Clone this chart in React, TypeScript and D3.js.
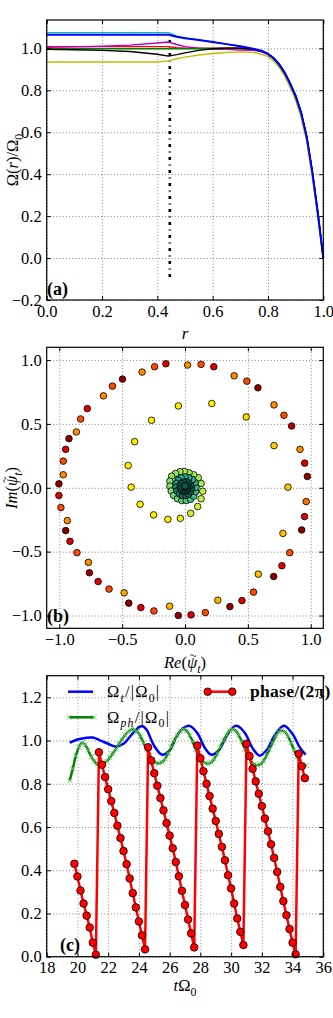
import React, { useEffect, useRef } from "react";
import {
  select,
  scaleLinear,
  line,
  curveCatmullRom,
  axisBottom,
  axisLeft,
  axisTop,
  axisRight,
  format,
} from "d3";

const FONT = "'Liberation Serif', 'Times New Roman', serif";
const TICK_FS = 16.5;

// ---------- panel (a): Omega(r)/Omega_0 profiles
const rValues = [0, 0.1, 0.2, 0.3, 0.4, 0.44, 0.47, 0.5, 0.55, 0.6, 0.65, 0.7, 0.75, 0.78, 0.8, 0.82, 0.84, 0.86, 0.88, 0.9, 0.92, 0.94, 0.96, 0.98, 1.0];
const omegaCyan = [1.075, 1.075, 1.075, 1.075, 1.075, 1.075, 1.058, 1.05, 1.04, 1.03, 1.02, 1.01, 0.997, 0.987, 0.974, 0.954, 0.924, 0.884, 0.832, 0.772, 0.692, 0.577, 0.412, 0.217, 0.0];
const omegaRed = [1.008, 1.008, 1.008, 1.008, 1.008, 1.008, 1.003, 1.0, 1.0, 1.0, 1.0, 1.0, 0.995, 0.985, 0.972, 0.952, 0.922, 0.882, 0.83, 0.77, 0.69, 0.575, 0.41, 0.215, 0.0];
const omegaMagenta = [1.005, 1.007, 1.01, 1.015, 1.025, 1.03, 1.018, 1.008, 1.0, 0.997, 0.995, 0.992, 0.99, 0.982, 0.97, 0.95, 0.92, 0.88, 0.828, 0.768, 0.688, 0.573, 0.408, 0.213, 0.0];
const omegaGreen = [0.998, 0.998, 0.998, 0.998, 0.998, 0.998, 0.998, 0.998, 0.998, 0.999, 1.0, 1.0, 0.995, 0.985, 0.972, 0.952, 0.922, 0.882, 0.83, 0.77, 0.69, 0.575, 0.41, 0.215, 0.0];
const omegaBlack = [0.995, 0.993, 0.99, 0.985, 0.972, 0.963, 0.97, 0.978, 0.99, 0.998, 1.0, 1.0, 0.995, 0.985, 0.975, 0.956, 0.927, 0.888, 0.836, 0.777, 0.697, 0.582, 0.417, 0.22, 0.0];
const omegaYellow = [0.935, 0.935, 0.935, 0.935, 0.935, 0.94, 0.95, 0.958, 0.968, 0.975, 0.98, 0.983, 0.98, 0.97, 0.96, 0.94, 0.91, 0.868, 0.815, 0.752, 0.67, 0.555, 0.39, 0.2, 0.0];
const omegaBlue = [1.065, 1.065, 1.065, 1.065, 1.065, 1.065, 1.055, 1.048, 1.04, 1.03, 1.02, 1.01, 0.997, 0.987, 0.973, 0.953, 0.923, 0.883, 0.831, 0.771, 0.691, 0.576, 0.411, 0.216, 0.0];
const profiles = [
  { values: omegaCyan, color: "#00bfbf" },
  { values: omegaRed, color: "#ff0000" },
  { values: omegaMagenta, color: "#bf00bf" },
  { values: omegaGreen, color: "#008000" },
  { values: omegaBlack, color: "#000000" },
  { values: omegaYellow, color: "#bfbf00" },
  { values: omegaBlue, color: "#0000ff" },
];
const markerR = 0.445;
const markerSpan = [-0.09, 1.05];

// ---------- panel (b): psi_t in the complex plane [re, im, colour level]
const outerRing: [number, number, number][] = [
  [0.021, 0.961, 3], [-0.152, 0.971, 1], [-0.242, 0.948, 2], [-0.341, 0.906, 3], [-0.497, 0.851, 0],
  [-0.577, 0.796, 2], [-0.649, 0.72, 3], [-0.777, 0.62, 1], [-0.83, 0.539, 2], [-0.864, 0.437, 3],
  [-0.923, 0.385, 0], [-0.949, 0.301, 1], [-0.968, 0.209, 2], [-0.968, 0.102, 3], [-1.003, 0.031, 0],
  [-1.003, -0.06, 1], [-0.987, -0.155, 2], [-0.936, -0.257, 3], [-0.949, -0.335, 0], [-0.915, -0.419, 1],
  [-0.859, -0.508, 2], [-0.768, -0.584, 3], [-0.76, -0.665, 0], [-0.691, -0.734, 1], [-0.604, -0.793, 2],
  [-0.484, -0.822, 3.5], [-0.447, -0.903, 0], [-0.351, -0.938, 1], [-0.247, -0.964, 2], [-0.122, -0.927, 3.8],
  [-0.053, -1.0, 0], [0.048, -0.995, 1], [0.162, -0.977, 2], [0.261, -0.88, 3.8], [0.357, -0.93, 0],
  [0.453, -0.883, 1], [0.545, -0.817, 2], [0.583, -0.676, 4], [0.705, -0.694, 0], [0.771, -0.61, 1],
  [0.833, -0.508, 2], [0.779, -0.357, 4], [0.928, -0.33, 0], [0.951, -0.225, 1], [0.964, -0.108, 2.5],
  [0.973, 0.089, 0], [0.952, 0.193, 1], [0.915, 0.301, 3], [0.848, 0.484, 0.5], [0.787, 0.568, 2],
  [0.708, 0.649, 3], [0.58, 0.783, 0], [0.492, 0.835, 2], [0.391, 0.877, 3], [0.229, 0.948, 1],
  [0.128, 0.966, 2],
];
const innerSpiral: [number, number, number][] = [
  [0.819, 0.005, 4.3], [0.708, 0.33, 4.3], [0.487, 0.555, 4.6], [0.213, 0.66, 5], [-0.053, 0.641, 5],
  [-0.266, 0.529, 5], [-0.401, 0.361, 5], [-0.452, 0.175, 5], [-0.428, 0.005, 5], [-0.357, -0.129, 5],
  [-0.25, -0.212, 5], [-0.136, -0.247, 5], [-0.037, -0.239, 5.5], [0.045, -0.2, 6], [0.101, -0.147, 6],
  [0.128, -0.086, 6.5], [0.141, -0.027, 6.5], [0.128, 0.034, 7], [0.106, 0.079, 7], [0.069, 0.102, 7],
  [0.032, 0.118, 7], [-0.006, 0.128, 7], [-0.04, 0.126, 7.2], [-0.075, 0.112, 7.2], [-0.106, 0.091, 7.4],
  [-0.12, 0.052, 7.5], [-0.12, 0.013, 7.6], [-0.11, -0.025, 7.8], [-0.09, -0.06, 8], [-0.06, -0.085, 8],
  [-0.025, -0.1, 8.2], [0.01, -0.1, 8.4], [0.045, -0.09, 8.5], [0.07, -0.065, 8.6], [0.085, -0.03, 8.7],
  [0.088, 0.005, 8.8], [0.08, 0.04, 9], [0.06, 0.065, 9], [0.03, 0.08, 9], [0.0, 0.085, 9],
  [-0.03, 0.078, 9], [-0.055, 0.06, 9.2], [-0.07, 0.035, 9.3], [-0.072, 0.005, 9.4], [-0.063, -0.025, 9.5],
  [-0.045, -0.048, 9.6], [-0.02, -0.06, 9.7], [0.005, -0.06, 9.8], [0.028, -0.05, 9.8], [0.045, -0.03, 9.9],
  [0.05, -0.005, 10], [0.045, 0.02, 10], [0.03, 0.038, 10], [0.01, 0.047, 10], [-0.012, 0.045, 10],
  [-0.03, 0.033, 10], [-0.038, 0.015, 10], [-0.036, -0.005, 10], [-0.025, -0.02, 10], [-0.01, -0.027, 10],
  [0.005, -0.025, 10], [0.016, -0.015, 10], [0.02, 0.0, 10], [0.015, 0.012, 10], [0.0, 0.015, 10],
];
const levelColors = ["#8e0000", "#dd0000", "#ff4a00", "#ff8c00", "#ffbf00", "#ffee00", "#d8f030", "#a6ea55", "#6fd27a", "#2fa88e", "#0e5a4c"];

// ---------- panel (c): time series
const phaseT = [
  19.8, 20.0, 20.2, 20.4, 20.6, 20.8, 21.0, 21.2,
  21.4, 21.6, 21.8, 22.0, 22.2, 22.4, 22.6, 22.8, 23.0, 23.2, 23.4, 23.6, 23.8, 24.0, 24.2, 24.4,
  24.6, 24.8, 25.0, 25.2, 25.4, 25.6, 25.8, 26.0, 26.2, 26.4, 26.6, 26.8, 27.0, 27.2, 27.4, 27.6,
  27.8, 28.0, 28.2, 28.4, 28.6, 28.8, 29.0, 29.2, 29.4, 29.6, 29.8, 30.0, 30.2, 30.4, 30.6, 30.8,
  31.0, 31.2, 31.4, 31.6, 31.8, 32.0, 32.2, 32.4, 32.6, 32.8, 33.0, 33.2, 33.4, 33.6, 33.8, 34.0, 34.2,
  34.4, 34.6, 34.8,
];
const phaseV = [
  0.43, 0.371, 0.306, 0.246, 0.19, 0.135, 0.065, 0.009,
  0.946, 0.888, 0.831, 0.775, 0.72, 0.665, 0.606, 0.549, 0.489, 0.428, 0.362, 0.294, 0.228, 0.163, 0.099, 0.034,
  0.969, 0.908, 0.849, 0.791, 0.734, 0.677, 0.618, 0.56, 0.502, 0.438, 0.372, 0.305, 0.239, 0.172, 0.108, 0.043,
  0.977, 0.918, 0.858, 0.8, 0.743, 0.685, 0.628, 0.568, 0.508, 0.446, 0.377, 0.316, 0.246, 0.177, 0.115, 0.054,
  0.985, 0.928, 0.869, 0.811, 0.754, 0.697, 0.639, 0.58, 0.52, 0.457, 0.392, 0.323, 0.257, 0.192, 0.128, 0.065, 0.011,
  0.939, 0.881, 0.826,
];
const omegaT: [number, number][] = [
  [19.5, 0.99], [20.0, 1.005], [20.5, 1.012], [21.0, 1.014], [21.5, 1.0], [22.0, 0.985], [22.5, 0.972],
  [23.0, 0.985], [23.5, 1.025], [24.0, 1.062], [24.25, 1.066], [24.5, 1.05], [25.0, 0.975], [25.5, 0.935],
  [26.0, 0.955], [26.5, 1.025], [27.0, 1.062], [27.3, 1.068], [27.8, 1.035], [28.3, 0.965], [28.7, 0.935],
  [29.2, 0.955], [29.7, 1.02], [30.2, 1.065], [30.4, 1.068], [30.9, 1.035], [31.4, 0.965], [31.85, 0.93],
  [32.3, 0.955], [32.8, 1.02], [33.3, 1.064], [33.5, 1.068], [34.0, 1.03], [34.5, 0.965], [34.85, 0.935],
];
const omegaPh: [number, number][] = [
  [19.5, 0.815], [19.7, 0.87], [19.9, 0.93], [20.1, 0.97], [20.3, 0.99], [20.5, 0.98], [20.7, 0.955],
  [20.9, 0.925], [21.1, 0.905], [21.3, 0.89], [21.5, 0.888], [21.7, 0.895], [21.9, 0.905], [22.1, 0.92],
  [22.3, 0.94], [22.5, 0.96], [22.7, 0.985], [22.9, 1.005], [23.1, 1.025], [23.3, 1.04], [23.5, 1.05],
  [23.7, 1.05], [23.9, 1.04], [24.1, 1.02], [24.3, 0.99], [24.5, 0.96], [24.7, 0.93], [24.9, 0.91],
  [25.1, 0.897], [25.3, 0.895], [25.5, 0.9], [25.7, 0.915], [25.9, 0.94], [26.1, 0.97], [26.3, 1.0],
  [26.5, 1.025], [26.7, 1.045], [26.9, 1.052], [27.1, 1.045], [27.3, 1.025], [27.5, 0.995], [27.7, 0.96],
  [27.9, 0.93], [28.1, 0.91], [28.3, 0.897], [28.5, 0.893], [28.7, 0.9], [28.9, 0.915], [29.1, 0.94],
  [29.3, 0.97], [29.5, 1.0], [29.7, 1.025], [29.9, 1.045], [30.1, 1.052], [30.3, 1.045], [30.5, 1.025],
  [30.7, 0.995], [30.9, 0.96], [31.1, 0.93], [31.3, 0.905], [31.5, 0.89], [31.7, 0.886], [31.9, 0.89],
  [32.1, 0.905], [32.3, 0.93], [32.5, 0.96], [32.7, 0.99], [32.9, 1.02], [33.1, 1.04], [33.3, 1.047],
  [33.5, 1.04], [33.7, 1.02], [33.9, 0.99], [34.1, 0.955], [34.3, 0.925], [34.5, 0.9], [34.7, 0.888],
  [34.9, 0.885],
];

// ticks
const aTicksX = [0, 0.2, 0.4, 0.6, 0.8, 1.0];
const aTicksY = [-0.2, 0, 0.2, 0.4, 0.6, 0.8, 1.0];
const bTicks = [-1, -0.5, 0, 0.5, 1];
const cTicksX = [18, 20, 22, 24, 26, 28, 30, 32, 34, 36];
const cTicksY = [0, 0.2, 0.4, 0.6, 0.8, 1.0, 1.2];

const LEFT = 46.7, RIGHT = 323.3;

function drawFrame(g, x, y, xTicks, yTicks) {
  const [x0, x1] = x.range();
  const [y0, y1] = y.range();
  // dotted grid
  const gx = g.append("g").attr("transform", `translate(0,${y0})`)
    .call(axisBottom(x).tickValues(xTicks).tickSize(-(y0 - y1)).tickFormat(() => ""));
  const gy = g.append("g").attr("transform", `translate(${x0},0)`)
    .call(axisLeft(y).tickValues(yTicks).tickSize(-(x1 - x0)).tickFormat(() => ""));
  [gx, gy].forEach((a) => {
    a.select(".domain").remove();
    a.selectAll("line").attr("stroke", "#333").attr("stroke-width", 0.6).attr("stroke-dasharray", "1,2.2");
  });
}

function drawAxes(g, x, y, xTicks, yTicks, fx, fy) {
  const [x0, x1] = x.range();
  const [y0, y1] = y.range();
  const axes = [
    g.append("g").attr("transform", `translate(0,${y0})`)
      .call(axisBottom(x).tickValues(xTicks).tickSize(-4).tickPadding(5).tickFormat(fx)),
    g.append("g").attr("transform", `translate(0,${y1})`)
      .call(axisTop(x).tickValues(xTicks).tickSize(-4).tickFormat(() => "")),
    g.append("g").attr("transform", `translate(${x0},0)`)
      .call(axisLeft(y).tickValues(yTicks).tickSize(-4).tickPadding(5).tickFormat(fy)),
    g.append("g").attr("transform", `translate(${x1},0)`)
      .call(axisRight(y).tickValues(yTicks).tickSize(-4).tickFormat(() => "")),
  ];
  axes.forEach((a) => {
    a.select(".domain").remove();
    a.selectAll("line").attr("stroke", "#000").attr("stroke-width", 1);
    a.selectAll("text").attr("font-family", FONT).attr("font-size", TICK_FS).attr("fill", "#000");
  });
  g.append("rect")
    .attr("x", x0).attr("y", y1).attr("width", x1 - x0).attr("height", y0 - y1)
    .attr("fill", "none").attr("stroke", "#000").attr("stroke-width", 1.2);
}

// parts: t text, i italic, sub subscript, tilde = draw a tilde over this glyph
function mathText(g, x, y, parts, fs, rotate = false, anchor = "middle", spacing = 0) {
  const wrap = g.append("g")
    .attr("transform", rotate ? `translate(${x},${y}) rotate(-90)` : `translate(${x},${y})`);
  const t = wrap.append("text")
    .attr("font-family", FONT).attr("font-size", fs).attr("fill", "#000")
    .attr("text-anchor", anchor)
    .attr("letter-spacing", spacing);
  let shifted = 0;
  let idx = 0;
  const tildeAt = [];
  parts.forEach((p) => {
    const s = t.append("tspan").text(p.t);
    if (p.i) s.attr("font-style", "italic");
    const target = p.sub ? fs * 0.3 : 0;
    if (target !== shifted) { s.attr("dy", target - shifted); shifted = target; }
    if (p.sub) s.attr("font-size", fs * 0.72);
    if (p.tilde) tildeAt.push(idx);
    idx += p.t.length;
  });
  tildeAt.forEach((ci) => {
    const box = t.node().getExtentOfChar(ci);
    const cx = box.x + box.width * 0.62;
    const cy = -fs * 0.8;
    const w = fs * 0.17;
    wrap.append("path")
      .attr("d", `M${cx - w},${cy + 0.8}q${w / 2},${-w * 0.7},${w},0t${w},0`)
      .attr("fill", "none").attr("stroke", "#000").attr("stroke-width", 0.9);
  });
  return t;
}

function panelLabel(g, x, y, txt) {
  g.append("text").attr("x", x).attr("y", y)
    .attr("font-family", FONT).attr("font-size", 18).attr("font-weight", "bold")
    .text(txt);
}

const psiParts = (head) => [
  { t: head, i: true }, { t: "(" }, { t: "ψ", i: true, tilde: true },
  { t: "t", i: true, sub: true }, { t: ")" },
];

function App() {
  const svgRef = useRef(null);

  useEffect(() => {
    const svg = select(svgRef.current);
    svg.selectAll("*").remove();
    const f1 = format(".1f");
    const fInt = format("d");

    // ===== panel (a)
    const ga = svg.append("g");
    const xa = scaleLinear().domain([0, 1]).range([LEFT, RIGHT]);
    const ya = scaleLinear().domain([-0.2, 1.135]).range([300, 20]);
    drawFrame(ga, xa, ya, aTicksX, aTicksY);
    ga.append("line")
      .attr("x1", xa(markerR)).attr("x2", xa(markerR))
      .attr("y1", ya(markerSpan[0])).attr("y2", ya(markerSpan[1]))
      .attr("stroke", "#000").attr("stroke-width", 2.6).attr("stroke-dasharray", "3,4.5,1,4.5");
    const lineA = line().x((d) => xa(d[0])).y((d) => ya(d[1]));
    profiles.forEach((p) => {
      ga.append("path")
        .attr("d", lineA(p.values.map((v, i) => [rValues[i], v])))
        .attr("fill", "none").attr("stroke", p.color)
        .attr("stroke-width", p.color === "#0000ff" ? 2 : 1.4)
        .attr("stroke-linejoin", "round");
    });
    drawAxes(ga, xa, ya, aTicksX, aTicksY, f1, f1);
    panelLabel(ga, 47, 295, "(a)");
    mathText(ga, 185, 339, [{ t: "r", i: true }], 17);
    mathText(ga, 18, 160, [{ t: "Ω(" }, { t: "r", i: true }, { t: ")/Ω" }, { t: "0", sub: true }], 16.5, true);

    // ===== panel (b)
    const gb = svg.append("g");
    const xb = scaleLinear().domain([-1.1, 1.1]).range([LEFT, RIGHT]);
    const yb = scaleLinear().domain([-1.1, 1.1]).range([628.3, 347.3]);
    drawFrame(gb, xb, yb, bTicks, bTicks);
    const colorOf = scaleLinear().domain(levelColors.map((_, i) => i)).range(levelColors).clamp(true);
    gb.selectAll("circle.pt")
      .data([...outerRing, ...innerSpiral])
      .join("circle")
      .attr("class", "pt")
      .attr("cx", (d) => xb(d[0])).attr("cy", (d) => yb(d[1]))
      .attr("r", 3.3)
      .attr("fill", (d) => colorOf(d[2]))
      .attr("stroke", "#000").attr("stroke-width", 0.8);
    drawAxes(gb, xb, yb, bTicks, bTicks, f1, f1);
    panelLabel(gb, 47, 622, "(b)");
    mathText(gb, 185, 668, psiParts("Re"), 16.5);
    mathText(gb, 17, 488, psiParts("Im"), 16.5, true);

    // ===== panel (c)
    const gc = svg.append("g");
    const xc = scaleLinear().domain([18, 36]).range([LEFT, RIGHT]);
    const yc = scaleLinear().domain([0, 1.3]).range([956.7, 675.7]);
    drawFrame(gc, xc, yc, cTicksX, cTicksY);
    const lineC = line().x((d) => xc(d[0])).y((d) => yc(d[1]));
    const smoothC = line().x((d) => xc(d[0])).y((d) => yc(d[1])).curve(curveCatmullRom);
    gc.append("path").attr("d", smoothC(omegaT))
      .attr("fill", "none").attr("stroke", "#0000ff").attr("stroke-width", 2.5);
    gc.append("path").attr("d", smoothC(omegaPh))
      .attr("fill", "none").attr("stroke", "#008000").attr("stroke-width", 2.5);
    const xMark = (s) => `M${-s},${-s}L${s},${s}M${-s},${s}L${s},${-s}`;
    gc.selectAll("path.xm").data(omegaPh).join("path")
      .attr("class", "xm")
      .attr("transform", (d) => `translate(${xc(d[0])},${yc(d[1])})`)
      .attr("d", xMark(2.6))
      .attr("stroke", "#6cc46c").attr("stroke-width", 0.9).attr("fill", "none");
    const phasePts = phaseT.map((t, i) => [t, phaseV[i]]);
    gc.append("path").attr("d", lineC(phasePts))
      .attr("fill", "none").attr("stroke", "#ff0000").attr("stroke-width", 2.5).attr("stroke-linejoin", "round");
    gc.selectAll("circle.ph").data(phasePts).join("circle")
      .attr("class", "ph")
      .attr("cx", (d) => xc(d[0])).attr("cy", (d) => yc(d[1]))
      .attr("r", 3.8).attr("fill", "#ff0000").attr("stroke", "#000").attr("stroke-width", 0.8);
    drawAxes(gc, xc, yc, cTicksX, cTicksY, fInt, f1);
    panelLabel(gc, 60, 951, "(c)");
    mathText(gc, 185, 991, [{ t: "t", i: true }, { t: "Ω" }, { t: "0", sub: true }], 16.5);

    // legend
    const lg = gc.append("g");
    lg.append("line").attr("x1", 68).attr("x2", 93).attr("y1", 691.7).attr("y2", 691.7)
      .attr("stroke", "#0000ff").attr("stroke-width", 2.5);
    lg.append("line").attr("x1", 69).attr("x2", 94).attr("y1", 717.3).attr("y2", 717.3)
      .attr("stroke", "#008000").attr("stroke-width", 2.5);
    [69, 94].forEach((px) => {
      lg.append("path").attr("transform", `translate(${px},717.3)`).attr("d", xMark(2.6))
        .attr("stroke", "#6cc46c").attr("stroke-width", 0.9);
    });
    lg.append("line").attr("x1", 207.7).attr("x2", 232.3).attr("y1", 691.7).attr("y2", 691.7)
      .attr("stroke", "#ff0000").attr("stroke-width", 2.5);
    [207.7, 232.3].forEach((px) => {
      lg.append("circle").attr("cx", px).attr("cy", 691.7).attr("r", 3.8)
        .attr("fill", "#ff0000").attr("stroke", "#000").attr("stroke-width", 0.8);
    });
    mathText(lg, 107, 697, [{ t: "Ω" }, { t: "t", i: true, sub: true }, { t: "/|Ω" }, { t: "0", sub: true }, { t: "|" }], 16.5, false, "start", 1.2);
    mathText(lg, 107, 722.5, [{ t: "Ω" }, { t: "ph", i: true, sub: true }, { t: "/|Ω" }, { t: "0", sub: true }, { t: "|" }], 16.5, false, "start", 1.2);
    lg.append("text").attr("x", 250).attr("y", 697)
      .attr("font-family", FONT).attr("font-size", 17.5).attr("font-weight", "bold")
      .attr("letter-spacing", 0.3)
      .text("phase/(2π)");
  }, []);

  return (
    <div style={{ position: "absolute", left: 0, top: 0 }}>
      <svg ref={svgRef} width={333} height={1018} style={{ display: "block", background: "#fff" }} />
    </div>
  );
}

export default App;
